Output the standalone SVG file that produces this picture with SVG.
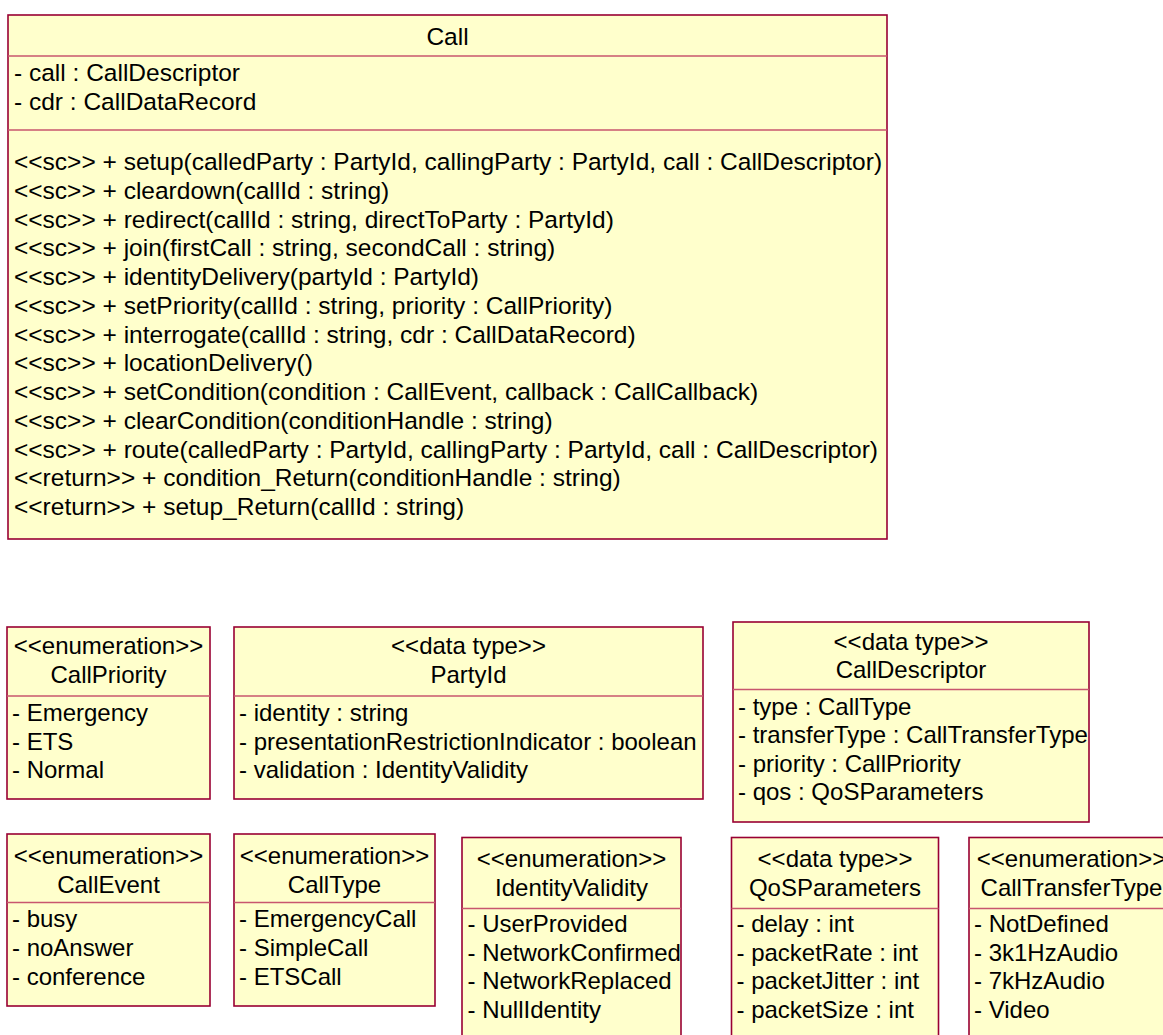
<svg xmlns="http://www.w3.org/2000/svg" width="1163" height="1035" viewBox="0 0 1163 1035">
<style>
.box{fill:#FFFFCC;stroke:#990033;stroke-width:1.6}
.dv{stroke:#C8566E;stroke-width:1.3;fill:none}
text{font-family:"Liberation Sans",Arial,sans-serif;font-size:24px;fill:#000}
.big text{font-size:24.5px}
.c{text-anchor:middle}
</style>
<rect width="1163" height="1035" fill="#fff"/>
<g id="Call" class="big">
<rect class="box" x="8" y="15" width="879" height="524"/>
<line class="dv" x1="8" y1="56" x2="887" y2="56"/>
<line class="dv" x1="8" y1="130" x2="887" y2="130"/>
<text class="c" x="447.5" y="44.5">Call</text>
<text x="14" y="81">- call : CallDescriptor</text>
<text x="14" y="109.5">- cdr : CallDataRecord</text>
<text x="14" y="170">&lt;&lt;sc&gt;&gt; + setup(calledParty : PartyId, callingParty : PartyId, call : CallDescriptor)</text>
<text x="14" y="198.75">&lt;&lt;sc&gt;&gt; + cleardown(callId : string)</text>
<text x="14" y="227.5">&lt;&lt;sc&gt;&gt; + redirect(callId : string, directToParty : PartyId)</text>
<text x="14" y="256.25">&lt;&lt;sc&gt;&gt; + join(firstCall : string, secondCall : string)</text>
<text x="14" y="285">&lt;&lt;sc&gt;&gt; + identityDelivery(partyId : PartyId)</text>
<text x="14" y="313.75">&lt;&lt;sc&gt;&gt; + setPriority(callId : string, priority : CallPriority)</text>
<text x="14" y="342.5">&lt;&lt;sc&gt;&gt; + interrogate(callId : string, cdr : CallDataRecord)</text>
<text x="14" y="371.25">&lt;&lt;sc&gt;&gt; + locationDelivery()</text>
<text x="14" y="400">&lt;&lt;sc&gt;&gt; + setCondition(condition : CallEvent, callback : CallCallback)</text>
<text x="14" y="428.75">&lt;&lt;sc&gt;&gt; + clearCondition(conditionHandle : string)</text>
<text x="14" y="457.5">&lt;&lt;sc&gt;&gt; + route(calledParty : PartyId, callingParty : PartyId, call : CallDescriptor)</text>
<text x="14" y="486.25">&lt;&lt;return&gt;&gt; + condition_Return(conditionHandle : string)</text>
<text x="14" y="515">&lt;&lt;return&gt;&gt; + setup_Return(callId : string)</text>
</g>
<g id="CallPriority">
<rect class="box" x="7" y="627" width="203" height="172"/>
<line class="dv" x1="7" y1="696" x2="210" y2="696"/>
<text class="c" x="108.5" y="653.5">&lt;&lt;enumeration&gt;&gt;</text>
<text class="c" x="108.5" y="683">CallPriority</text>
<text x="12" y="721">- Emergency</text>
<text x="12" y="749.5">- ETS</text>
<text x="12" y="778">- Normal</text>
</g>
<g id="PartyId">
<rect class="box" x="234" y="627" width="469" height="172"/>
<line class="dv" x1="234" y1="696" x2="703" y2="696"/>
<text class="c" x="468.5" y="653.5">&lt;&lt;data type&gt;&gt;</text>
<text class="c" x="468.5" y="683">PartyId</text>
<text x="239" y="721">- identity : string</text>
<text x="239" y="749.5">- presentationRestrictionIndicator : boolean</text>
<text x="239" y="778">- validation : IdentityValidity</text>
</g>
<g id="CallDescriptor">
<rect class="box" x="733" y="622" width="356" height="200"/>
<line class="dv" x1="733" y1="689.5" x2="1089" y2="689.5"/>
<text class="c" x="911" y="649.5">&lt;&lt;data type&gt;&gt;</text>
<text class="c" x="911" y="678">CallDescriptor</text>
<text x="738" y="714.5">- type : CallType</text>
<text x="738" y="743">- transferType : CallTransferType</text>
<text x="738" y="771.5">- priority : CallPriority</text>
<text x="738" y="800">- qos : QoSParameters</text>
</g>
<g id="CallEvent">
<rect class="box" x="7" y="834" width="203" height="172"/>
<line class="dv" x1="7" y1="902.5" x2="210" y2="902.5"/>
<text class="c" x="108.5" y="863.5">&lt;&lt;enumeration&gt;&gt;</text>
<text class="c" x="108.5" y="892.5">CallEvent</text>
<text x="12" y="927">- busy</text>
<text x="12" y="956">- noAnswer</text>
<text x="12" y="985">- conference</text>
</g>
<g id="CallType">
<rect class="box" x="234" y="834" width="201" height="172"/>
<line class="dv" x1="234" y1="902.5" x2="435" y2="902.5"/>
<text class="c" x="334.5" y="863.5">&lt;&lt;enumeration&gt;&gt;</text>
<text class="c" x="334.5" y="892.5">CallType</text>
<text x="239" y="927">- EmergencyCall</text>
<text x="239" y="956">- SimpleCall</text>
<text x="239" y="985">- ETSCall</text>
</g>
<g id="IdentityValidity">
<rect class="box" x="462" y="837.5" width="219" height="210"/>
<line class="dv" x1="462" y1="908.5" x2="681" y2="908.5"/>
<text class="c" x="571.5" y="867">&lt;&lt;enumeration&gt;&gt;</text>
<text class="c" x="571.5" y="895.5">IdentityValidity</text>
<text x="467.5" y="932">- UserProvided</text>
<text x="467.5" y="960.5">- NetworkConfirmed</text>
<text x="467.5" y="989">- NetworkReplaced</text>
<text x="467.5" y="1017.5">- NullIdentity</text>
</g>
<g id="QoSParameters">
<rect class="box" x="731.5" y="837.5" width="207" height="210"/>
<line class="dv" x1="731.5" y1="908.5" x2="938.5" y2="908.5"/>
<text class="c" x="835" y="867">&lt;&lt;data type&gt;&gt;</text>
<text class="c" x="835" y="895.5">QoSParameters</text>
<text x="736.5" y="932">- delay : int</text>
<text x="736.5" y="960.5">- packetRate : int</text>
<text x="736.5" y="989">- packetJitter : int</text>
<text x="736.5" y="1017.5">- packetSize : int</text>
</g>
<g id="CallTransferType">
<rect class="box" x="969" y="837.5" width="205" height="210"/>
<line class="dv" x1="969" y1="908.5" x2="1174" y2="908.5"/>
<text class="c" x="1071.5" y="867">&lt;&lt;enumeration&gt;&gt;</text>
<text class="c" x="1071.5" y="895.5">CallTransferType</text>
<text x="974" y="932">- NotDefined</text>
<text x="974" y="960.5">- 3k1HzAudio</text>
<text x="974" y="989">- 7kHzAudio</text>
<text x="974" y="1017.5">- Video</text>
</g>
<g id="connectors"/>
</svg>
